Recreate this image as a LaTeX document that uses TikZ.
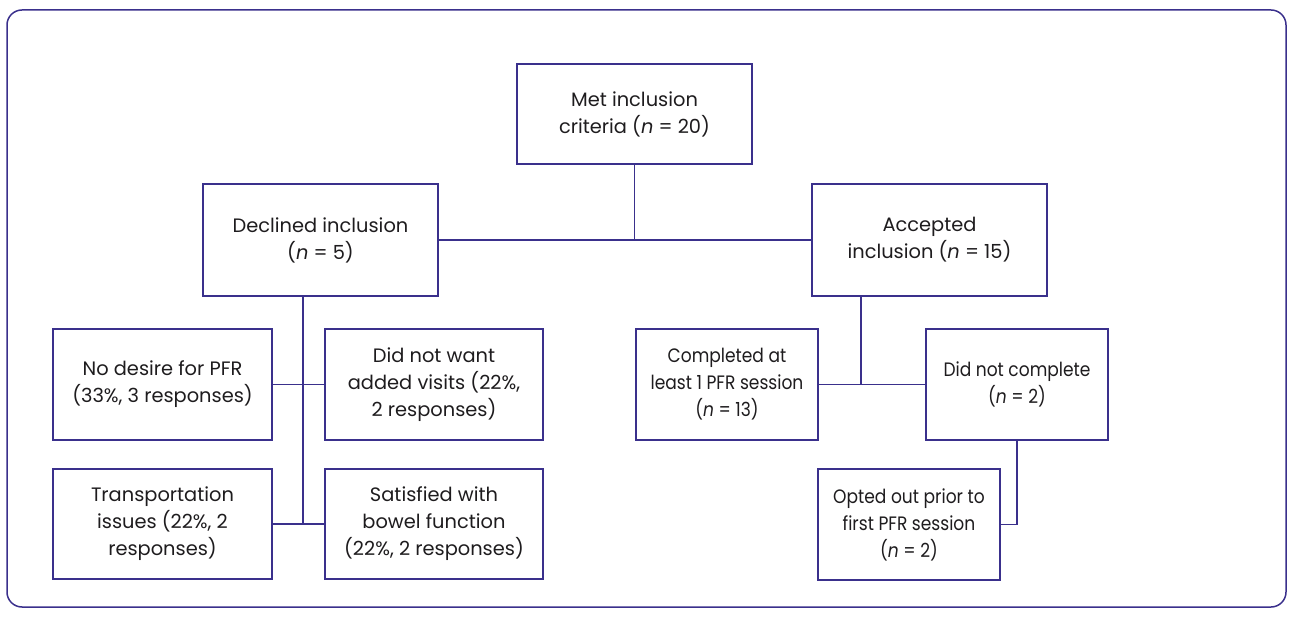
\documentclass[tikz,border=0pt]{standalone}
\usepackage{fontspec}
\setmainfont{Poppins}
\newfontfamily\narrowfont{Poppins}[FakeStretch=0.88]
\definecolor{navy}{RGB}{58,48,140}
\definecolor{ink}{RGB}{30,28,30}
\begin{document}
\begin{tikzpicture}[x=1pt,y=-1pt,
  box/.style={draw=navy, line width=1.4pt, align=center, inner sep=0pt, text=ink,
    font=\fontsize{19.4}{27}\selectfont},
  narrowbox/.style={box, font=\narrowfont\fontsize{19.4}{27}\selectfont},
  link/.style={draw=navy, line width=1.3pt}]
\useasboundingbox (0,0) rectangle (1293,617);
\draw[navy, line width=1.5pt, rounded corners=15pt] (7,10) rectangle (1286,607);
\node[box, minimum width=235pt, minimum height=100pt] (met) at (634.5,114) {Met inclusion\\criteria (\textit{n} = 20)};
\node[box, minimum width=235pt, minimum height=112pt] (dec) at (320.5,240) {Declined inclusion\\(\textit{n} = 5)};
\node[box, minimum width=235pt, minimum height=112pt] (acc) at (929.5,240) {Accepted\\inclusion (\textit{n} = 15)};
\node[box, minimum width=219pt, minimum height=111pt] (nod) at (162.5,384.5) {No desire for PFR\\(33\%, 3 responses)};
\node[box, minimum width=218pt, minimum height=111pt] (dnw) at (434,384.5) {Did not want\\added visits (22\%,\\2 responses)};
\node[box, minimum width=219pt, minimum height=110pt] (tra) at (162.5,524) {Transportation\\issues (22\%, 2\\responses)};
\node[box, minimum width=218pt, minimum height=110pt] (sat) at (434,524) {Satisfied with\\bowel function\\(22\%, 2 responses)};
\node[narrowbox, minimum width=182pt, minimum height=111pt] (com) at (727,384.5) {Completed at\\least 1 PFR session\\(\textit{n} = 13)};
\node[narrowbox, minimum width=182pt, minimum height=111pt] (dnc) at (1017,384.5) {Did not complete\\(\textit{n} = 2)};
\node[narrowbox, minimum width=182pt, minimum height=111pt] (opt) at (909,524.5) {Opted out prior to\\first PFR session\\(\textit{n} = 2)};
% connectors
\coordinate (j1) at (met.south |- dec.east);
\draw[link] (met.south) -- (j1);
\draw[link] (dec.east) -- (acc.west);
\coordinate (l1) at (303,296);
\coordinate (l2) at (303,524);
\draw[link] (l1) -- (l2);
\draw[link] (nod.east) -- (dnw.west);
\draw[link] (tra.east) -- (sat.west);
\coordinate (r1) at (861,296);
\coordinate (r2) at (861,384.5);
\draw[link] (r1) -- (r2);
\draw[link] (com.east) -- (dnc.west);
\coordinate (r3) at (dnc.south |- opt.east);
\draw[link] (dnc.south) -- (r3) -- (opt.east);
\end{tikzpicture}
\end{document}
